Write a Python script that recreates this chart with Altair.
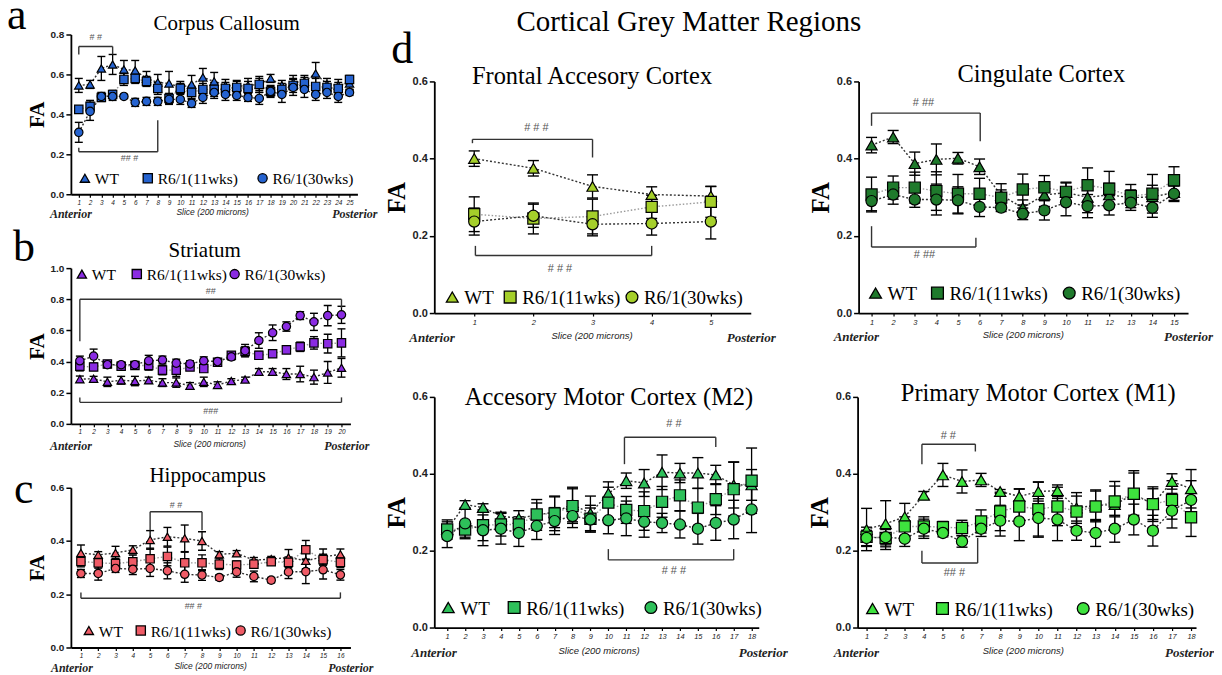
import altair as alt
import pandas as pd

GROUPS = ["WT", "R6/1(11wks)", "R6/1(30wks)"]
SHAPES = ["triangle-up", "square", "circle"]

# ---------------- Panel a: Corpus Callosum (25 slices)
a_wt = [0.545, 0.55, 0.63, 0.65, 0.625, 0.62, 0.58, 0.56, 0.555, 0.535, 0.55, 0.585, 0.565, 0.545, 0.54, 0.545, 0.55, 0.58, 0.545, 0.56, 0.565, 0.605, 0.55, 0.545, 0.555]
a_wt_e = [0.035, 0.02, 0.06, 0.05, 0.045, 0.05, 0.035, 0.04, 0.06, 0.03, 0.045, 0.045, 0.045, 0.03, 0.03, 0.035, 0.04, 0.02, 0.025, 0.035, 0.03, 0.055, 0.03, 0.03, 0.03]
a_11 = [0.425, 0.44, 0.485, 0.5, 0.575, 0.58, 0.565, 0.53, 0.48, 0.53, 0.51, 0.525, 0.525, 0.53, 0.535, 0.53, 0.55, 0.515, 0.525, 0.545, 0.555, 0.54, 0.535, 0.53, 0.575]
a_11_e = [0.01, 0.03, 0.02, 0.02, 0.03, 0.025, 0.025, 0.03, 0.025, 0.025, 0.03, 0.03, 0.035, 0.03, 0.03, 0.035, 0.03, 0.025, 0.03, 0.035, 0.03, 0.04, 0.03, 0.03, 0.02]
a_30 = [0.31, 0.415, 0.49, 0.49, 0.49, 0.46, 0.465, 0.465, 0.475, 0.475, 0.455, 0.485, 0.51, 0.5, 0.495, 0.485, 0.48, 0.515, 0.5, 0.535, 0.525, 0.5, 0.51, 0.49, 0.51]
a_30_e = [0.05, 0.045, 0.02, 0.02, 0.01, 0.02, 0.02, 0.02, 0.025, 0.025, 0.02, 0.03, 0.03, 0.03, 0.025, 0.02, 0.03, 0.03, 0.04, 0.04, 0.04, 0.03, 0.03, 0.03, 0.015]
a_br = [[1, 4, 0.74, 0.70, 0.70], [1, 8, 0.213, 0.233, 0.37]]
a_lab = [[2.5, 0.785, "# #"], [5.5, 0.183, "## #"]]

# ---------------- Panel b: Striatum (20 slices)
b_wt = [0.287, 0.29, 0.27, 0.28, 0.275, 0.28, 0.265, 0.265, 0.245, 0.27, 0.25, 0.275, 0.285, 0.335, 0.335, 0.32, 0.32, 0.3, 0.33, 0.36]
b_wt_e = [0.02, 0.015, 0.03, 0.025, 0.03, 0.02, 0.025, 0.03, 0.02, 0.03, 0.02, 0.015, 0.015, 0.02, 0.02, 0.035, 0.05, 0.045, 0.07, 0.06]
b_11 = [0.37, 0.365, 0.385, 0.37, 0.375, 0.375, 0.345, 0.345, 0.365, 0.355, 0.395, 0.44, 0.465, 0.44, 0.45, 0.475, 0.495, 0.52, 0.515, 0.52]
b_11_e = [0.03, 0.02, 0.02, 0.02, 0.02, 0.03, 0.03, 0.04, 0.02, 0.02, 0.02, 0.02, 0.03, 0.025, 0.015, 0.015, 0.03, 0.04, 0.06, 0.09]
b_30 = [0.405, 0.435, 0.38, 0.38, 0.38, 0.405, 0.41, 0.39, 0.385, 0.405, 0.4, 0.43, 0.47, 0.535, 0.585, 0.625, 0.695, 0.655, 0.695, 0.7]
b_30_e = [0.03, 0.045, 0.02, 0.015, 0.02, 0.035, 0.025, 0.025, 0.02, 0.025, 0.02, 0.02, 0.04, 0.05, 0.05, 0.03, 0.025, 0.055, 0.065, 0.055]
b_br = [[1, 20, 0.80, 0.53, 0.745], [1, 20, 0.138, 0.17, 0.17]]
b_lab = [[10.5, 0.85, "##"], [10.5, 0.085, "###"]]

# ---------------- Panel c: Hippocampus (16 slices)
c_wt = [0.355, 0.348, 0.355, 0.367, 0.404, 0.416, 0.41, 0.4, 0.35, 0.354, 0.328, 0.332, 0.338, 0.326, 0.34, 0.35]
c_wt_e = [0.03, 0.012, 0.025, 0.015, 0.035, 0.035, 0.05, 0.035, 0.01, 0.01, 0.01, 0.01, 0.03, 0.03, 0.03, 0.02]
c_11 = [0.323, 0.318, 0.315, 0.322, 0.333, 0.342, 0.318, 0.318, 0.313, 0.31, 0.313, 0.322, 0.32, 0.367, 0.33, 0.32]
c_11_e = [0.02, 0.02, 0.02, 0.025, 0.04, 0.035, 0.04, 0.03, 0.02, 0.015, 0.015, 0.01, 0.02, 0.035, 0.02, 0.02]
c_30 = [0.278, 0.278, 0.297, 0.294, 0.297, 0.288, 0.275, 0.272, 0.263, 0.284, 0.267, 0.253, 0.284, 0.285, 0.292, 0.273]
c_30_e = [0.015, 0.025, 0.015, 0.02, 0.03, 0.03, 0.03, 0.02, 0.01, 0.02, 0.02, 0.01, 0.025, 0.045, 0.035, 0.02]
c_br = [[5, 8, 0.51, 0.44, 0.44], [1, 16, 0.185, 0.207, 0.207]]
c_lab = [[6.5, 0.537, "# #"], [7.5, 0.155, "## #"]]

# ---------------- Frontal Accesory Cortex (5 slices)
f_wt = [0.40, 0.375, 0.328, 0.307, 0.303]
f_wt_e = [0.02, 0.02, 0.03, 0.02, 0.025]
f_11 = [0.256, 0.245, 0.25, 0.275, 0.288]
f_11_e = [0.045, 0.04, 0.045, 0.03, 0.04]
f_30 = [0.237, 0.252, 0.23, 0.232, 0.237]
f_30_e = [0.035, 0.03, 0.03, 0.03, 0.045]
f_br = [[0.97, 3.0, 0.45, 0.44, 0.403], [1.02, 4.0, 0.149, 0.174, 0.174]]
f_lab = [[2.05, 0.48, "# # #"], [2.45, 0.113, "# # #"]]

# ---------------- Cingulate Cortex (15 slices)
g_wt = [0.435, 0.456, 0.387, 0.398, 0.401, 0.379, 0.305, 0.273, 0.306, 0.312, 0.3, 0.306, 0.299, 0.301, 0.312]
g_wt_e = [0.02, 0.017, 0.03, 0.04, 0.015, 0.02, 0.03, 0.02, 0.03, 0.025, 0.04, 0.03, 0.02, 0.03, 0.02]
g_11 = [0.307, 0.325, 0.325, 0.316, 0.309, 0.309, 0.299, 0.32, 0.326, 0.314, 0.331, 0.322, 0.303, 0.309, 0.344]
g_11_e = [0.045, 0.03, 0.04, 0.05, 0.05, 0.04, 0.02, 0.04, 0.03, 0.025, 0.045, 0.045, 0.03, 0.05, 0.035]
g_30 = [0.29, 0.307, 0.294, 0.294, 0.292, 0.275, 0.273, 0.257, 0.266, 0.287, 0.277, 0.279, 0.286, 0.273, 0.309]
g_30_e = [0.025, 0.025, 0.02, 0.04, 0.035, 0.025, 0.01, 0.015, 0.025, 0.035, 0.03, 0.025, 0.02, 0.025, 0.02]
g_br = [[1, 6.03, 0.518, 0.485, 0.445], [1, 5.83, 0.171, 0.225, 0.195]]
g_lab = [[3.4, 0.545, "# ##"], [3.45, 0.15, "# ##"]]

# ---------------- Accesory Motor Cortex (M2) (18 slices)
m2_wt = [0.255, 0.32, 0.312, 0.29, 0.284, 0.293, 0.3, 0.32, 0.297, 0.349, 0.382, 0.376, 0.404, 0.402, 0.402, 0.397, 0.371, 0.371]
m2_wt_e = [0.025, 0.01, 0.01, 0.01, 0.02, 0.04, 0.04, 0.045, 0.045, 0.03, 0.02, 0.035, 0.045, 0.025, 0.04, 0.025, 0.06, 0.04]
m2_11 = [0.255, 0.255, 0.266, 0.268, 0.268, 0.294, 0.297, 0.316, 0.283, 0.325, 0.306, 0.303, 0.327, 0.344, 0.312, 0.334, 0.36, 0.382]
m2_11_e = [0.02, 0.02, 0.04, 0.03, 0.02, 0.03, 0.045, 0.045, 0.035, 0.04, 0.035, 0.05, 0.04, 0.04, 0.05, 0.04, 0.07, 0.085]
m2_30 = [0.238, 0.271, 0.253, 0.257, 0.246, 0.264, 0.277, 0.29, 0.281, 0.279, 0.284, 0.275, 0.272, 0.268, 0.257, 0.272, 0.281, 0.307]
m2_30_e = [0.03, 0.04, 0.04, 0.04, 0.035, 0.035, 0.035, 0.03, 0.03, 0.035, 0.045, 0.04, 0.025, 0.035, 0.04, 0.045, 0.05, 0.06]
m2_br = [[10.9, 16.0, 0.495, 0.425, 0.47], [10.0, 17.0, 0.176, 0.204, 0.204]]
m2_lab = [[13.66, 0.53, "# #"], [13.66, 0.146, "# # #"]]

# ---------------- Primary Motor Cortex (M1) (18 slices)
m1_wt = [0.255, 0.27, 0.288, 0.344, 0.397, 0.38, 0.384, 0.354, 0.341, 0.354, 0.356, 0.311, 0.318, 0.32, 0.347, 0.321, 0.38, 0.361]
m1_wt_e = [0.055, 0.06, 0.035, 0.01, 0.03, 0.03, 0.017, 0.005, 0.02, 0.025, 0.015, 0.04, 0.04, 0.06, 0.055, 0.04, 0.02, 0.05]
m1_11 = [0.236, 0.233, 0.263, 0.263, 0.261, 0.259, 0.276, 0.302, 0.315, 0.308, 0.315, 0.302, 0.315, 0.328, 0.348, 0.321, 0.332, 0.287]
m1_11_e = [0.025, 0.03, 0.025, 0.025, 0.015, 0.02, 0.03, 0.05, 0.045, 0.07, 0.05, 0.04, 0.04, 0.04, 0.06, 0.045, 0.05, 0.05]
m1_30 = [0.233, 0.235, 0.231, 0.257, 0.246, 0.224, 0.257, 0.278, 0.276, 0.285, 0.281, 0.252, 0.246, 0.257, 0.281, 0.252, 0.304, 0.332]
m1_30_e = [0.02, 0.02, 0.02, 0.025, 0.01, 0.015, 0.02, 0.04, 0.05, 0.05, 0.055, 0.025, 0.035, 0.035, 0.04, 0.04, 0.045, 0.05]
m1_br = [[3.9, 6.7, 0.477, 0.425, 0.458], [3.9, 6.82, 0.168, 0.2, 0.233]]
m1_lab = [[5.28, 0.498, "# #"], [5.6, 0.142, "## #"]]

SERIF = "Liberation Serif"
SANS = "Liberation Sans"


def note(text, x, y, **kw):
    return alt.Chart(pd.DataFrame({"t": [text]})).mark_text(**kw).encode(
        x=alt.value(x), y=alt.value(y), text="t:N")


def panel(p):
    series = [(p["wt"], p["wt_e"]), (p["r11"], p["r11_e"]), (p["r30"], p["r30_e"])]
    rows = []
    for g, (m, e) in zip(GROUPS, series):
        for i, (mm, ee) in enumerate(zip(m, e)):
            rows.append({"slice": i + 1, "group": g, "fa": mm, "lo": mm - ee, "hi": mm + ee})
    df = pd.DataFrame(rows)
    n = len(p["wt"])
    w, h = p["w"], p["h"]
    big = p["big"]

    xs = alt.Scale(domain=p["xdom"], nice=False, zero=False)
    ys = alt.Scale(domain=[0, p["ymax"]], nice=False)
    yvals = [round(0.2 * k, 1) for k in range(int(round(p["ymax"] / 0.2)) + 1)]
    xax = alt.Axis(values=list(range(1, n + 1)), format="d", title=None, grid=False,
                   labelFont=SANS, labelFontStyle="italic", labelFontSize=7.5 if big else 6.5,
                   labelColor="#222", domainColor="black", domainWidth=1.8, tickColor="black",
                   tickWidth=1.2, tickSize=3, labelPadding=2, labelAngle=0, labelFlush=False)
    yax = alt.Axis(values=yvals, format=".1f", title="FA", titleFont=SERIF,
                   titleFontSize=25 if big else 21, titleFontWeight="bold", titleColor="black",
                   titleX=-p["fax"], titleY=h / 2, titleAngle=270, titleAlign="center",
                   titleBaseline="middle", labelFont=SANS, labelFontWeight="bold",
                   labelFontSize=11 if big else 10, labelColor="#222", domainColor="black",
                   domainWidth=1.8, tickColor="black", tickWidth=1.5, tickSize=5, grid=False,
                   labelPadding=2)

    base = alt.Chart(df)
    X = alt.X("slice:Q", scale=xs, axis=xax)
    layers = []
    for g, col, dash in zip(GROUPS, ["#333", "#999", "#333"], [[2, 2], [1.5, 2], [2, 2]]):
        layers.append(base.transform_filter(alt.datum.group == g).mark_line(
            color=col, strokeDash=dash, strokeWidth=1.4).encode(
            x=X, y=alt.Y("fa:Q", scale=ys, axis=yax)))
    layers.append(base.mark_rule(color="black", strokeWidth=1.3).encode(
        x=X, y=alt.Y("lo:Q", scale=ys, axis=yax), y2="hi:Q"))
    for f in ["lo", "hi"]:
        layers.append(base.mark_tick(orient="horizontal", size=p["cap"], thickness=1.4,
                                     color="black", opacity=1).encode(
            x=X, y=alt.Y(f + ":Q", scale=ys, axis=yax)))
    layers.append(base.mark_point(filled=True, fill=p["color"], stroke="black", strokeWidth=1.2,
                                  size=p["msize"], opacity=1).encode(
        x=X, y=alt.Y("fa:Q", scale=ys, axis=yax),
        shape=alt.Shape("group:N", scale=alt.Scale(domain=GROUPS, range=SHAPES), legend=None)))
    # significance brackets
    segs = []
    for x1, x2, yy, yl, yr in p["br"]:
        segs += [{"x": x1, "x2": x2, "y": yy, "y2": yy},
                 {"x": x1, "x2": x1, "y": yy, "y2": yl},
                 {"x": x2, "x2": x2, "y": yy, "y2": yr}]
    layers.append(alt.Chart(pd.DataFrame(segs)).mark_rule(color="#333", strokeWidth=1.4).encode(
        x=alt.X("x:Q", scale=xs, axis=xax), x2="x2:Q",
        y=alt.Y("y:Q", scale=ys, axis=yax), y2="y2:Q"))
    labs = pd.DataFrame([{"x": a, "y": b, "t": c} for a, b, c in p["lab"]])
    layers.append(alt.Chart(labs).mark_text(font=SANS, fontSize=11 if big else 9,
                                            color="#555").encode(
        x=alt.X("x:Q", scale=xs, axis=xax), y=alt.Y("y:Q", scale=ys, axis=yax), text="t:N"))
    # legend (symbol + label for each group)
    ly = p["ly"]
    off = 12 if big else 10
    for g, shp, sx in zip(GROUPS, SHAPES, p["lxs"]):
        layers.append(alt.Chart(pd.DataFrame({"g": [g]})).mark_point(
            shape=shp, filled=True, fill=p["color"], stroke="black", strokeWidth=1.3,
            size=p["lsym"], opacity=1).encode(x=alt.value(sx), y=alt.value(ly)))
        layers.append(note(g, sx + off, ly + 1, font=SERIF, fontSize=p["lfs"], color="black",
                           align="left", baseline="middle"))
    # texts
    tx, ty = p["tpos"]
    layers.append(note(p["title"], tx, ty, font=SERIF, fontSize=24.5 if big else 21,
                       color="black", align="center", baseline="middle"))
    ax_fs = 13 if big else 12
    layers.append(note("Anterior", p["ant"], h + p["ay"], font=SERIF, fontSize=ax_fs,
                       fontStyle="italic", fontWeight="bold", color="#222", align="left",
                       baseline="middle"))
    layers.append(note("Posterior", p["post"], h + p["ay"], font=SERIF, fontSize=ax_fs,
                       fontStyle="italic", fontWeight="bold", color="#222", align="right",
                       baseline="middle"))
    layers.append(note("Slice (200 microns)", p["sx"], h + p["ay"] - 2, font=SANS,
                       fontSize=9.5 if big else 8.5, fontStyle="italic", color="#222",
                       align="center", baseline="middle"))
    if p.get("letter"):
        lx, lyy = p["lpos"]
        layers.append(note(p["letter"], lx, lyy, font=SERIF, fontSize=44, color="black",
                           align="left", baseline="alphabetic"))
    return alt.layer(*layers).properties(width=w, height=h)


small = dict(big=False, cap=8, msize=70, lsym=85, lfs=15.5, fax=33)
large = dict(big=True, cap=11, msize=125, lsym=140, lfs=19, fax=38)

pa = panel(dict(small, wt=a_wt, wt_e=a_wt_e, r11=a_11, r11_e=a_11_e, r30=a_30, r30_e=a_30_e,
                br=a_br, lab=a_lab, w=287, h=160, xdom=[0.3, 25.7], ymax=0.8,
                color="#2563d0", title="Corpus Callosum", tpos=(156, -11), letter="a",
                lpos=(-64, -6), lxs=[14, 77, 192], ly=144, ant=-21, post=307, sx=142, ay=20))
pb = panel(dict(small, wt=b_wt, wt_e=b_wt_e, r11=b_11, r11_e=b_11_e, r30=b_30, r30_e=b_30_e,
                br=b_br, lab=b_lab, w=280, h=156, xdom=[0.35, 20.65], ymax=1.0,
                color="#8a2be2", title="Striatum", tpos=(134, -17), letter="b",
                lpos=(-58, -7), lxs=[11, 66, 164], ly=6, ant=-21, post=299, sx=139, ay=22))
pc = panel(dict(small, wt=c_wt, wt_e=c_wt_e, r11=c_11, r11_e=c_11_e, r30=c_30, r30_e=c_30_e,
                br=c_br, lab=c_lab, w=280, h=160, xdom=[0.42, 16.58], ymax=0.6,
                color="#ef5b66", title="Hippocampus", tpos=(137, -12), letter="c",
                lpos=(-57, 15), lxs=[18, 70, 170], ly=143, ant=-20, post=303, sx=140, ay=21))
pf = panel(dict(large, wt=f_wt, wt_e=f_wt_e, r11=f_11, r11_e=f_11_e, r30=f_30, r30_e=f_30_e,
                br=f_br, lab=f_lab, w=317, h=232, xdom=[0.325, 5.675], ymax=0.6,
                color="#a5cf2a", title="Frontal Accesory Cortex", tpos=(158, -4),
                lxs=[18, 76, 198], ly=216, ant=-25, post=342, sx=158, ay=25))
pg = panel(dict(large, wt=g_wt, wt_e=g_wt_e, r11=g_11, r11_e=g_11_e, r30=g_30, r30_e=g_30_e,
                br=g_br, lab=g_lab, w=330, h=232, xdom=[0.4, 15.65], ymax=0.6,
                color="#1f7a2c", title="Cingulate Cortex", tpos=(183, -6),
                lxs=[17, 79, 211], ly=212, ant=-25, post=355, sx=165, ay=24))
pm2 = panel(dict(large, wt=m2_wt, wt_e=m2_wt_e, r11=m2_11, r11_e=m2_11_e, r30=m2_30,
                 r30_e=m2_30_e, br=m2_br, lab=m2_lab, w=325, h=231, xdom=[0.28, 18.4],
                 ymax=0.6, color="#2ec05a", title="Accesory Motor Cortex (M2)", tpos=(175, 1),
                 lxs=[14, 80, 217], ly=211, ant=-23, post=354, sx=165, ay=26))
pm1 = panel(dict(large, wt=m1_wt, wt_e=m1_wt_e, r11=m1_11, r11_e=m1_11_e, r30=m1_30,
                 r30_e=m1_30_e, br=m1_br, lab=m1_lab, w=339, h=231, xdom=[0.53, 18.26],
                 ymax=0.6, color="#3ee23e", title="Primary Motor Cortex (M1)", tpos=(181, -3),
                 lxs=[15, 85, 226], ly=212, ant=-24, post=357, sx=166, ay=26))

header = alt.layer(
    note("Cortical Grey Matter Regions", 255, -13, font=SERIF, fontSize=29, color="black",
         align="center", baseline="middle"),
    note("d", -43, 29, font=SERIF, fontSize=44, color="black", align="left",
         baseline="alphabetic"),
).properties(width=763, height=47)


def ind(c):
    return c.resolve_scale(shape="independent")


# In a flush layout a nested concat counts as zero size, so spacings after a
# nested group are full offsets from that group's origin.
left_col = ind(alt.vconcat(pa, ind(alt.vconcat(pb, pc, spacing=64, bounds="flush")),
                           spacing=74, bounds="flush"))
row1 = ind(alt.hconcat(pf, pg, spacing=108, bounds="flush"))
row2 = ind(alt.hconcat(pm2, pm1, spacing=99, bounds="flush"))
right_col = ind(alt.vconcat(header, ind(alt.vconcat(row1, row2, spacing=316, bounds="flush")),
                            spacing=0, bounds="flush"))

chart = ind(alt.hconcat(left_col, right_col, spacing=364, bounds="flush")).properties(
    padding={"left": -1, "top": -15, "right": 0, "bottom": 0}
).configure_view(stroke=None)

chart.save("out.html", embed_options={"renderer": "svg", "actions": False})
